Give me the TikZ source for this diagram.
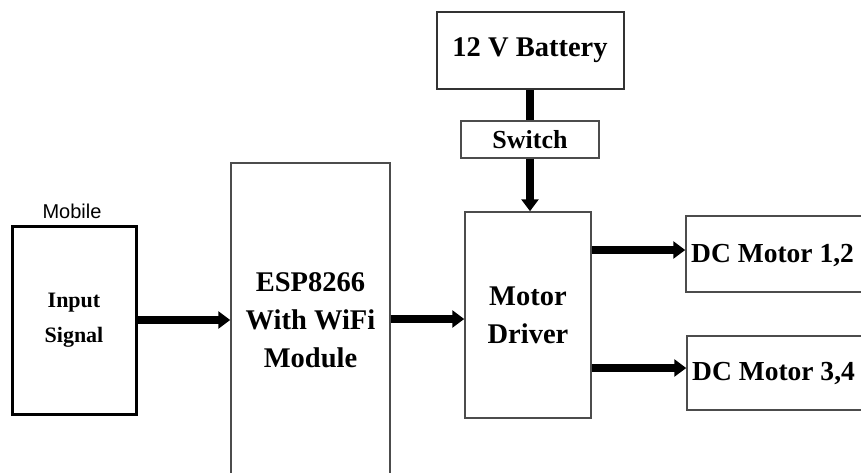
\documentclass[tikz,border=0pt]{standalone}
\usepackage{fontspec}
\setmainfont{Liberation Serif}
\newfontfamily\mobfont{Liberation Sans}
\usetikzlibrary{arrows.meta}
\begin{document}
\begin{tikzpicture}[x=1pt,y=-1pt,
  box/.style={draw=black!70, line width=1.5pt, inner sep=0pt, fill=white},
  lbl/.style={font=\fontsize{28.5}{38}\selectfont\bfseries, align=center, inner sep=0pt},
  dclbl/.style={font=\fontsize{27.5}{38}\selectfont\bfseries, inner sep=0pt, anchor=west},
  flow/.style={line width=8pt, -{Triangle[length=12pt,width=17pt]}},
  bar/.style={line width=8pt}]
\useasboundingbox (0,0) rectangle (861,473);
\clip (0,0) rectangle (861,473);
\fill[white] (0,0) rectangle (861,473);

\node[box, draw=black, line width=3pt, minimum width=124pt, minimum height=188pt,
      font=\fontsize{22}{35}\selectfont\bfseries, align=center] (input) at (74,320) {Input\\Signal};
\node[font=\mobfont\fontsize{20}{20}\selectfont] (mobile) at (72,211) {Mobile};

\node[box, minimum width=159pt, minimum height=315pt, lbl] (esp) at (310.5,320.5)
  {ESP8266\\With WiFi\\Module};
\node[box, minimum width=126pt, minimum height=206pt, lbl] (motor) at (528,315)
  {Motor\\Driver};
\node[box, draw=black!80, line width=2pt, minimum width=187pt, minimum height=77pt, lbl] (battery) at (530,50.5)
  {12 V Battery};
\node[box, minimum width=138pt, minimum height=37pt, font=\fontsize{26}{30}\selectfont\bfseries, inner sep=0pt] (switch) at (530,139.5)
  {Switch};

\node[box, minimum width=234pt, minimum height=76pt] (dc1) at (803,254) {};
\node[dclbl] (dc1t) at (691,256) {DC Motor 1,2};
\node[box, minimum width=233pt, minimum height=74pt] (dc2) at (803.5,373) {};
\node[dclbl] (dc2t) at (692,374) {DC Motor 3,4};

\draw[flow] (input.east) -- (input.east -| esp.west);
\draw[flow] (esp.east |- 0,319) -- (motor.west |- 0,319);
\draw[bar] (battery.south) -- (switch.north);
\draw[flow] (switch.south) -- (switch.south |- motor.north);
\draw[flow] (motor.east |- 0,250) -- (dc1.west |- 0,250);
\draw[flow] (motor.east |- 0,368) -- (dc2.west |- 0,368);
\end{tikzpicture}
\end{document}
